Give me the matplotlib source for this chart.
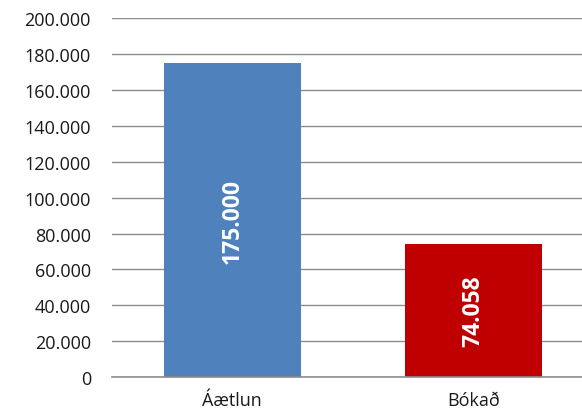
import matplotlib.pyplot as plt
from matplotlib.ticker import FuncFormatter

plt.rcParams['font.family'] = ['Open Sans', 'DejaVu Sans']

categories = ['Áætlun', 'Bókað']
values = [175000, 74058]
colors = ['#4F81BD', '#C00000']
yticks = [0, 20000, 40000, 60000, 80000, 100000, 120000, 140000, 160000, 180000, 200000]


def dot_thousands(v, pos=None):
    return f'{int(round(v)):,}'.replace(',', '.')


fig = plt.figure(figsize=(5.82, 4.14), dpi=100)
ax = fig.add_axes([0.192, 0.087, 0.829, 0.866])

x = range(len(categories))
bars = ax.bar(x, values, width=0.57, color=colors, zorder=3)

for b, v in zip(bars, values):
    ax.text(b.get_x() + b.get_width() / 2, v / 2, dot_thousands(v),
            rotation=90, ha='center', va='center', color='white',
            fontsize=16.5, fontweight='bold', zorder=4)

ax.set_xlim(-0.5, 1.5)
ax.set_ylim(0, 200000)
ax.set_yticks(yticks)
ax.yaxis.set_major_formatter(FuncFormatter(dot_thousands))
ax.set_xticks(list(x))
ax.set_xticklabels(categories)

ax.grid(axis='y', color='#8c8c8c', linewidth=1.0, zorder=0)
ax.axhline(0, color='#8c8c8c', linewidth=1.2, zorder=5, clip_on=False)
for s in ax.spines.values():
    s.set_visible(False)
ax.tick_params(axis='y', length=0, pad=15, labelsize=13, colors='#1a1a1a')
ax.tick_params(axis='x', length=0, pad=10, labelsize=13, colors='#1a1a1a')

fig.savefig('out.png', dpi=100)
